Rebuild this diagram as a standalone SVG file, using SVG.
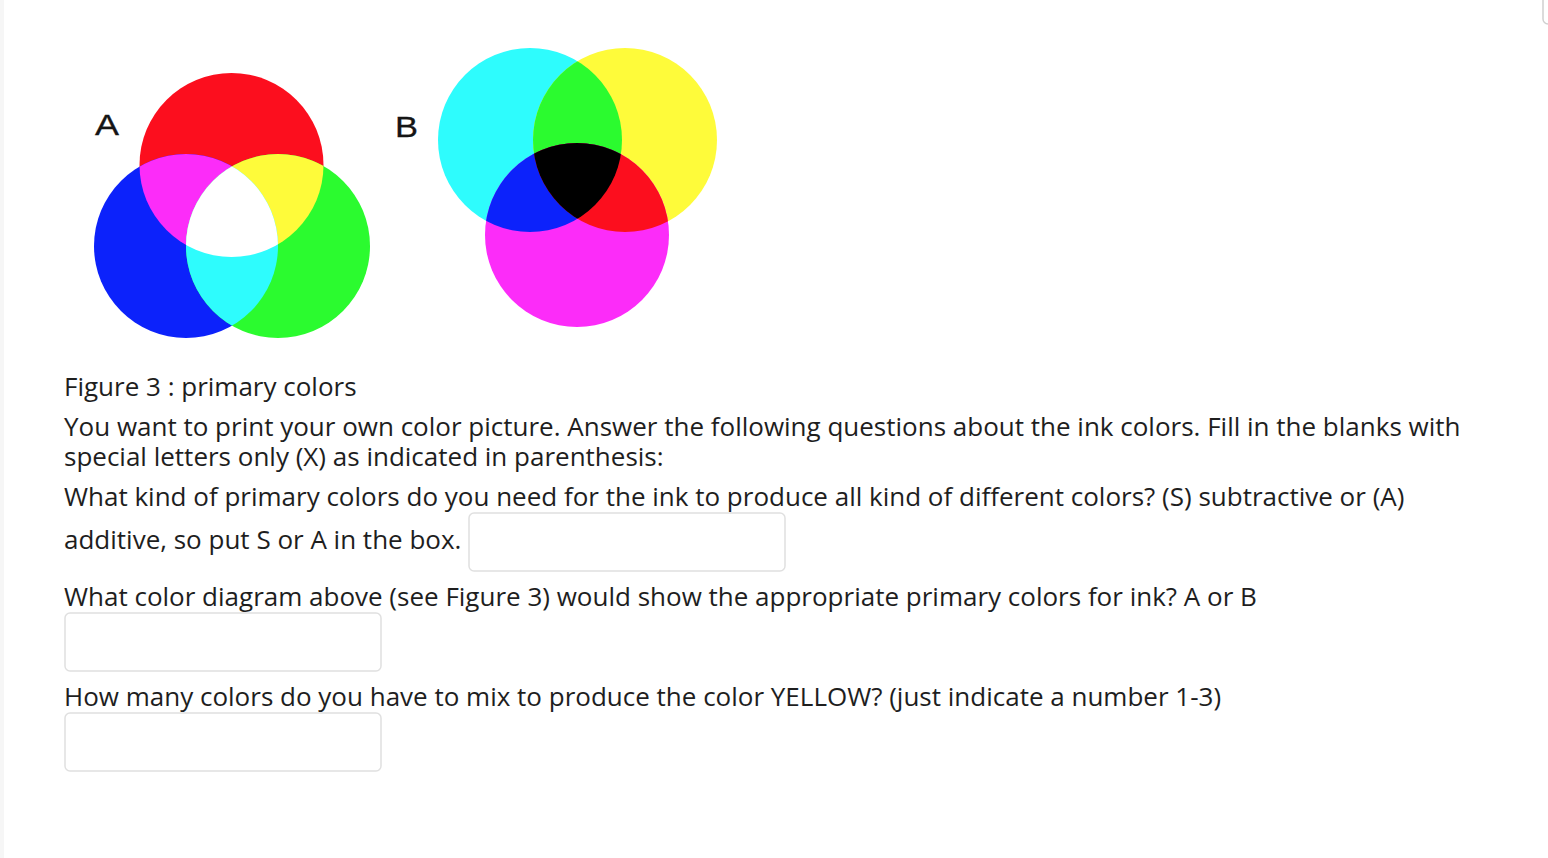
<svg xmlns="http://www.w3.org/2000/svg" width="1548" height="858" viewBox="0 0 1548 858">
<style>
.t{font-family:"Open Sans","Noto Sans",sans-serif;font-size:26px;fill:#1e1e1e}
.lbl{font-family:"Liberation Sans",Arial,sans-serif;font-size:29px;fill:#151515;stroke:#151515;stroke-width:0.3}
.box{fill:#fff;stroke:#e0e0e0;stroke-width:1.5}
</style>
<defs>
<clipPath id="cR"><circle cx="231.5" cy="165" r="92"/></clipPath>
<clipPath id="cB"><circle cx="186" cy="246" r="92"/></clipPath>
<clipPath id="cC"><circle cx="530" cy="140" r="92"/></clipPath>
<clipPath id="cY"><circle cx="625" cy="140" r="92"/></clipPath>
</defs>
<rect x="0" y="0" width="1548" height="858" fill="#fff"/>
<rect x="0" y="0" width="4" height="858" fill="#f6f6f6"/>
<rect x="1543" y="-10" width="20" height="34" rx="5" fill="#fff" stroke="#d0d0d0" stroke-width="1.5"/>
<g id="diagramA">
<circle cx="231.5" cy="165" r="92" fill="#fc0e1e"/>
<circle cx="186" cy="246" r="92" fill="#0c22fb"/>
<circle cx="278" cy="246" r="92" fill="#2bfb2f"/>
<g clip-path="url(#cR)"><circle cx="186" cy="246" r="92" fill="#fc2cf9"/><circle cx="278" cy="246" r="92" fill="#fefb3a"/></g>
<g clip-path="url(#cB)"><circle cx="278" cy="246" r="92" fill="#2efcfd"/></g>
<g clip-path="url(#cR)"><g clip-path="url(#cB)"><circle cx="278" cy="246" r="92" fill="#ffffff"/></g></g>
<text class="lbl" x="95" y="135" textLength="24" lengthAdjust="spacingAndGlyphs">A</text>
</g>
<g id="diagramB">
<circle cx="530" cy="140" r="92" fill="#2efcfd"/>
<circle cx="625" cy="140" r="92" fill="#fefb3a"/>
<circle cx="577" cy="235" r="92" fill="#fc2cf9"/>
<g clip-path="url(#cC)"><circle cx="625" cy="140" r="92" fill="#2bfb2f"/><circle cx="577" cy="235" r="92" fill="#0c22fb"/></g>
<g clip-path="url(#cY)"><circle cx="577" cy="235" r="92" fill="#fc0e1e"/></g>
<g clip-path="url(#cC)"><g clip-path="url(#cY)"><circle cx="577" cy="235" r="92" fill="#000"/></g></g>
<text class="lbl" x="395" y="137" textLength="23" lengthAdjust="spacingAndGlyphs">B</text>
</g>
<g id="texts">
<text class="t" x="64" y="396">Figure 3 : primary colors</text>
<text class="t" x="64" y="436">You want to print your own color picture. Answer the following questions about the ink colors. Fill in the blanks with</text>
<text class="t" x="64" y="466">special letters only (X) as indicated in parenthesis:</text>
<text class="t" x="64" y="506">What kind of primary colors do you need for the ink to produce all kind of different colors? (S) subtractive or (A)</text>
<text class="t" x="64" y="549">additive, so put S or A in the box.</text>
<text class="t" x="64" y="606">What color diagram above (see Figure 3) would show the appropriate primary colors for ink? A or B</text>
<text class="t" x="64" y="706">How many colors do you have to mix to produce the color YELLOW? (just indicate a number 1-3)</text>
</g>
<g id="box1"><rect class="box" x="469" y="513" width="316" height="58" rx="5"/></g>
<g id="box2"><rect class="box" x="65" y="613" width="316" height="58" rx="5"/></g>
<g id="box3"><rect class="box" x="65" y="713" width="316" height="58" rx="5"/></g>
</svg>
